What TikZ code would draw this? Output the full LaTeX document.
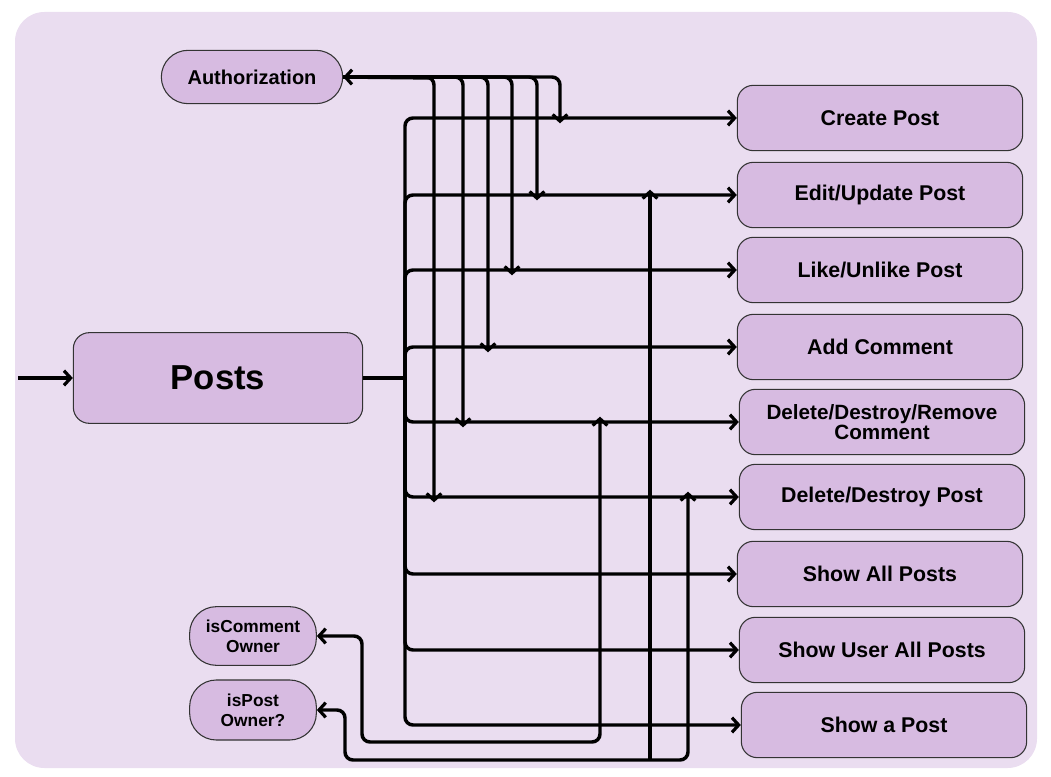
\documentclass[tikz,border=0pt]{standalone}
\usepackage{fontspec}
\setmainfont{Liberation Sans}
\usetikzlibrary{arrows.meta}
\definecolor{bgpurple}{HTML}{EADDF0}
\definecolor{boxpurple}{HTML}{D7BBE1}
\tikzset{
box/.style = {draw=black!80, line width=0.8pt, fill=boxpurple, rounded corners=12pt,
              align=center, font=\bfseries\fontsize{16}{15}\selectfont,
              minimum width=214pt, minimum height=49pt, inner sep=1pt},
pill/.style = {draw=black!80, line width=0.8pt, fill=boxpurple, rounded corners=20pt,
               align=center, inner sep=1pt},
link/.style = {line width=2.6pt, rounded corners=6pt},
arr/.style = {link, -{Straight Barb[length=5pt,width=11pt,line width=2.4pt]}},
arrs/.style = {link, {Straight Barb[length=5pt,width=11pt,line width=2.4pt]}-{Straight Barb[length=5pt,width=11pt,line width=2.4pt]}}
}

\begin{document}
\begin{tikzpicture}[x=0.75pt,y=-0.75pt]
	\useasboundingbox (0,0) rectangle (1051,777);
	\fill[bgpurple, rounded corners=22pt] (15,12) rectangle (1037,768);
	
	% Main node
	\node[box, minimum width=217pt, minimum height=68pt,
	      font=\bfseries\fontsize{26}{28}\selectfont] (posts) at (218,378) {Posts};
	\coordinate (in) at (18,378);
	\draw[arr] (in) -- (posts.west);
	
	% Actions
	\node[box] (create)  at (880,118) {Create Post};
	\node[box] (edit)    at (880,195) {Edit/Update Post};
	\node[box] (like)    at (880,270) {Like/Unlike Post};
	\node[box] (addcom)  at (880,347) {Add Comment};
	\node[box, font=\bfseries\fontsize{15.5}{13}\selectfont] (delcom) at (882,422) {Delete/Destroy/Remove\\Comment};
	\node[box] (delpost) at (882,497) {Delete/Destroy Post};
	\node[box] (showall) at (880,574) {Show All Posts};
	\node[box] (showusr) at (882,650) {Show User All Posts};
	\node[box] (showone) at (884,725) {Show a Post};
	
	% Middleware
	\node[pill, minimum width=136pt, minimum height=40pt,
	      font=\bfseries\fontsize{15}{16}\selectfont] (auth) at (252,77) {Authorization};
	\node[pill, minimum width=95pt, minimum height=44pt,
	      font=\bfseries\fontsize{13}{15}\selectfont] (iscom) at (253,636) {isComment\\Owner};
	\node[pill, minimum width=95pt, minimum height=45pt,
	      font=\bfseries\fontsize{13}{15}\selectfont] (ispost) at (253,710) {isPost\\Owner?};
	
	% Trunk from Posts
	\coordinate (trunk) at (405,378);
	\draw[link] (posts.east) -- (trunk);
	\foreach \n in {create,edit,like,addcom,delcom,delpost,showall,showusr,showone}
		\draw[arr] (trunk) |- (\n.west);
	
	% Authorization bus
	\coordinate (a1) at (434,78);
	\coordinate (a2) at (463,78);
	\coordinate (a3) at (488,78);
	\coordinate (a4) at (512,78);
	\coordinate (a5) at (537,78);
	\coordinate (a6) at (560,78);
	\draw[arr] (a1) -- (auth.east);
	\draw[arr] (auth.east) -| ([yshift=-4]a6 |- create.west);
	\draw[arr] (auth.east) -| ([yshift=-4]a5 |- edit.west);
	\draw[arr] (auth.east) -| ([yshift=-4]a4 |- like.west);
	\draw[arr] (auth.east) -| ([yshift=-4]a3 |- addcom.west);
	\draw[arr] (auth.east) -| ([yshift=-4]a2 |- delcom.west);
	\draw[arr] (auth.east) -| ([yshift=-4]a1 |- delpost.west);
	
	% Ownership checks
	\coordinate (c1) at (362,742);
	\coordinate (c2) at (600,742);
	\draw[arrs] (iscom.east) -| (c1) -| ([yshift=4]c2 |- delcom.west);
	\coordinate (p1) at (345,760);
	\coordinate (p2) at (650,760);
	\coordinate (p3) at (688,760);
	\draw[arrs] (ispost.east) -| (p1) -| ([yshift=4]p3 |- delpost.west);
	\draw[arr] (p2) -- ([yshift=4]p2 |- edit.west);
\end{tikzpicture}
\end{document}
